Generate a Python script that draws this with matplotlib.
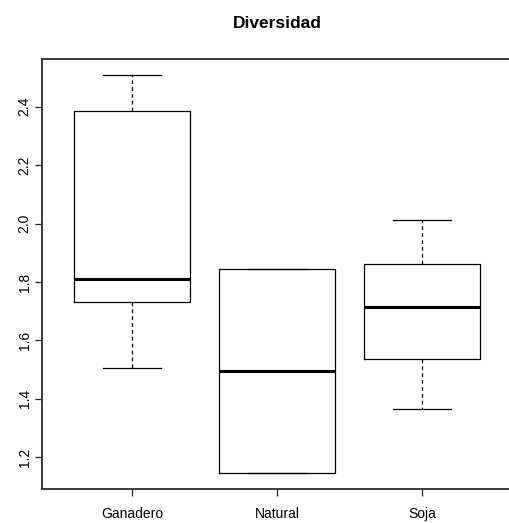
import matplotlib.pyplot as plt

plt.rcParams['font.family'] = ['Liberation Sans', 'DejaVu Sans']

# five-number summaries per land use
grupos = ['Ganadero', 'Natural', 'Soja']
minimo = [1.505, 1.145, 1.365]
q1 = [1.730, 1.145, 1.537]
mediana = [1.810, 1.495, 1.713]
q3 = [2.386, 1.845, 1.863]
maximo = [2.510, 1.845, 2.012]

stats = [
    dict(label=g, whislo=lo, q1=a, med=m, q3=b, whishi=hi, fliers=[])
    for g, lo, a, m, b, hi in zip(grupos, minimo, q1, mediana, q3, maximo)
]

fig = plt.figure(figsize=(5.10, 5.23), dpi=100)
ax = fig.add_axes([42 / 510, 34 / 523, 470 / 510, 430 / 523])

ax.bxp(
    stats,
    positions=[1, 2, 3],
    widths=0.8,
    showfliers=False,
    boxprops=dict(color='black', linewidth=0.9),
    medianprops=dict(color='black', linewidth=2.2, solid_capstyle='butt'),
    whiskerprops=dict(color='black', linewidth=0.9, linestyle=(0, (3, 2.5))),
    capprops=dict(color='black', linewidth=0.9),
    capwidths=0.4,
)

ax.set_xlim(0.38, 3.62)
ax.set_ylim(1.0914, 2.5636)
ax.set_yticks([1.2, 1.4, 1.6, 1.8, 2.0, 2.2, 2.4])
ax.set_yticklabels(['1.2', '1.4', '1.6', '1.8', '2.0', '2.2', '2.4'],
                   rotation=90, va='center')
ax.set_xticks([1, 2, 3])
ax.set_xticklabels(grupos)
ax.tick_params(axis='both', length=5, width=0.9, color='#222222',
               labelsize=10)
ax.tick_params(axis='x', pad=8)
ax.tick_params(axis='y', pad=2.5)
for s in ax.spines.values():
    s.set_linewidth(1.4)
    s.set_color('#3a3a3a')

ax.set_title('Diversidad', fontsize=12.5, fontweight='bold', pad=22)

fig.savefig('out.png', dpi=100)
